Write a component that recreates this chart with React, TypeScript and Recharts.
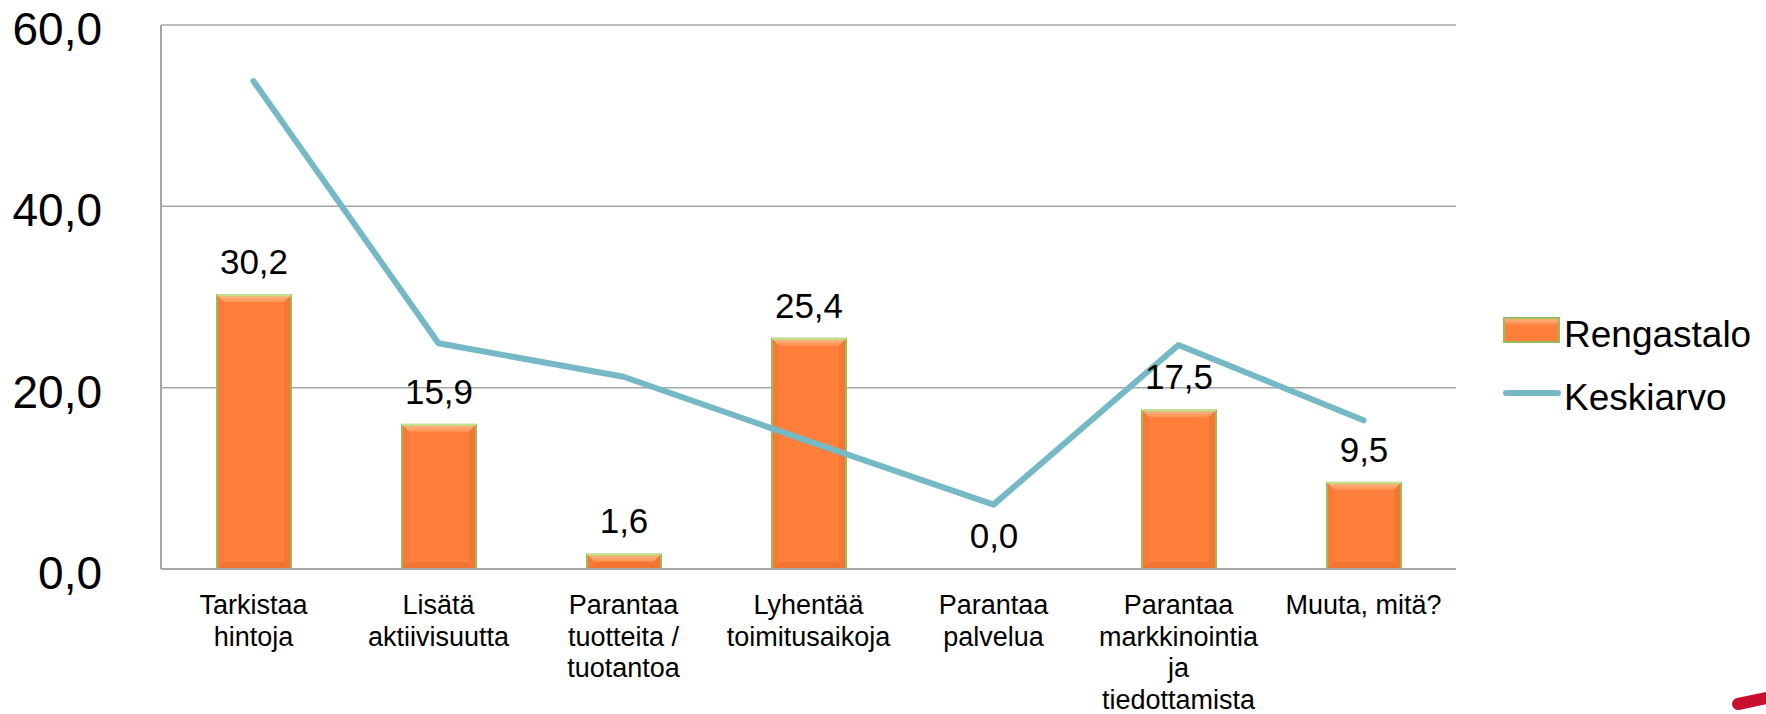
import React from "react";
import {
  ComposedChart,
  Bar,
  Line,
  XAxis,
  YAxis,
  CartesianGrid,
  LabelList,
} from "recharts";

const categoryLines = [
  ["Tarkistaa", "hintoja"],
  ["Lisätä", "aktiivisuutta"],
  ["Parantaa", "tuotteita /", "tuotantoa"],
  ["Lyhentää", "toimitusaikoja"],
  ["Parantaa", "palvelua"],
  ["Parantaa", "markkinointia", "ja", "tiedottamista"],
  ["Muuta, mitä?"],
];
const categories = categoryLines.map((l) => l.join(" "));

const rengastalo = [30.2, 15.9, 1.6, 25.4, 0.0, 17.5, 9.5];
const keskiarvo = [53.8, 24.9, 21.2, 14.1, 7.1, 24.7, 16.4];

const seriesNames = ["Rengastalo", "Keskiarvo"];
const yTicks = [0, 20, 40, 60];

const data = categories.map((c, i) => ({
  name: c,
  rengastalo: rengastalo[i],
  keskiarvo: keskiarvo[i],
}));

const fmt = (v: number) => v.toFixed(1).replace(".", ",");

const FONT = "'Liberation Sans', Arial, sans-serif";
const ORANGE = "#FD7F3A";
const GREEN = "#9BBB59";
const TEAL = "#76B9C6";

function BevelBar(props: any) {
  const { x, y, width, height } = props;
  if (!height || height <= 0.5) return null;
  const b = Math.min(7, height / 2);
  return (
    <g>
      <rect x={x} y={y} width={width} height={height} fill={ORANGE} />
      <polygon
        points={`${x},${y} ${x + width},${y} ${x + width - b},${y + b} ${x + b},${y + b}`}
        fill="url(#bevelTop)"
      />
      <polygon
        points={`${x},${y} ${x + b},${y + b} ${x + b},${y + height - b} ${x},${y + height}`}
        fill="#F87A36"
      />
      <polygon
        points={`${x + width},${y} ${x + width - b},${y + b} ${x + width - b},${y + height - b} ${x + width},${y + height}`}
        fill="#F47633"
      />
      <polygon
        points={`${x},${y + height} ${x + b},${y + height - b} ${x + width - b},${y + height - b} ${x + width},${y + height}`}
        fill="#F27432"
      />
      <rect
        x={x}
        y={y}
        width={width}
        height={height}
        fill="none"
        stroke={GREEN}
        strokeWidth={2}
      />
      <line x1={x} y1={y} x2={x + width} y2={y} stroke="#C6E28C" strokeWidth={2} />
    </g>
  );
}

function CategoryTick(props: any) {
  const { x, y, payload } = props;
  const lines = categoryLines[payload.index] ?? [String(payload.value)];
  return (
    <text
      x={x}
      y={y}
      textAnchor="middle"
      fontFamily={FONT}
      fontSize={27}
      fill="#000"
    >
      {lines.map((l, i) => (
        <tspan key={i} x={x} y={y + 37 + i * 31.5}>
          {l}
        </tspan>
      ))}
    </text>
  );
}

function ValueTick(props: any) {
  const { y, payload } = props;
  return (
    <text
      x={102}
      y={y + 20}
      textAnchor="end"
      fontFamily={FONT}
      fontSize={46}
      fill="#000"
    >
      {fmt(payload.value)}
    </text>
  );
}

function ValueLabel(props: any) {
  const { x, y, width, value } = props;
  return (
    <text
      x={x + width / 2}
      y={y - 21}
      textAnchor="middle"
      fontFamily={FONT}
      fontSize={35}
      fill="#000"
    >
      {fmt(Number(value))}
    </text>
  );
}

export default function App() {
  return (
    <div
      style={{
        position: "absolute",
        left: 0,
        top: 0,
        width: 1766,
        height: 714,
        background: "#fff",
        overflow: "hidden",
      }}
    >
      <ComposedChart
        width={1766}
        height={714}
        data={data}
        margin={{ top: 25, right: 310, left: 0, bottom: 0 }}
      >
        <defs>
          <linearGradient id="bevelTop" x1="0" y1="0" x2="0" y2="1">
            <stop offset="0%" stopColor="#FFB98A" />
            <stop offset="100%" stopColor="#FE9150" />
          </linearGradient>
        </defs>
        <CartesianGrid vertical={false} stroke="#A6A6A6" strokeWidth={1.5} />
        <XAxis
          dataKey="name"
          interval={0}
          height={145}
          tickLine={false}
          axisLine={{ stroke: "#A6A6A6", strokeWidth: 2 }}
          tick={<CategoryTick />}
        />
        <YAxis
          domain={[0, 60]}
          ticks={yTicks}
          width={161}
          tickLine={false}
          axisLine={{ stroke: "#A6A6A6", strokeWidth: 2 }}
          tick={<ValueTick />}
        />
        <Bar
          dataKey="rengastalo"
          name={seriesNames[0]}
          barSize={74}
          shape={<BevelBar />}
          isAnimationActive={false}
        >
          <LabelList dataKey="rengastalo" content={<ValueLabel />} />
        </Bar>
        <Line
          type="linear"
          dataKey="keskiarvo"
          name={seriesNames[1]}
          stroke={TEAL}
          strokeWidth={6}
          strokeLinecap="round"
          strokeLinejoin="round"
          dot={false}
          activeDot={false}
          isAnimationActive={false}
        />
      </ComposedChart>
      <svg
        width={1766}
        height={714}
        style={{ position: "absolute", left: 0, top: 0, pointerEvents: "none" }}
      >
        <defs>
          <linearGradient id="legTop" x1="0" y1="0" x2="0" y2="1">
            <stop offset="0%" stopColor="#FFB98A" />
            <stop offset="100%" stopColor="#FD7F3A" />
          </linearGradient>
        </defs>
        <rect x={1504} y={318} width={55} height={24} fill={ORANGE} />
        <rect x={1504} y={318} width={55} height={8} fill="url(#legTop)" />
        <rect
          x={1504}
          y={318}
          width={55}
          height={24}
          fill="none"
          stroke={GREEN}
          strokeWidth={2}
        />
        <text x={1564} y={347} fontFamily={FONT} fontSize={37} fill="#000">
          {seriesNames[0]}
        </text>
        <line
          x1={1506}
          y1={393}
          x2={1558}
          y2={393}
          stroke={TEAL}
          strokeWidth={6}
          strokeLinecap="round"
        />
        <text x={1564} y={410} fontFamily={FONT} fontSize={37} fill="#000">
          {seriesNames[1]}
        </text>
        <path
          d="M1738 704 L1772 697"
          stroke="#C8102E"
          strokeWidth={12}
          strokeLinecap="round"
        />
      </svg>
    </div>
  );
}
